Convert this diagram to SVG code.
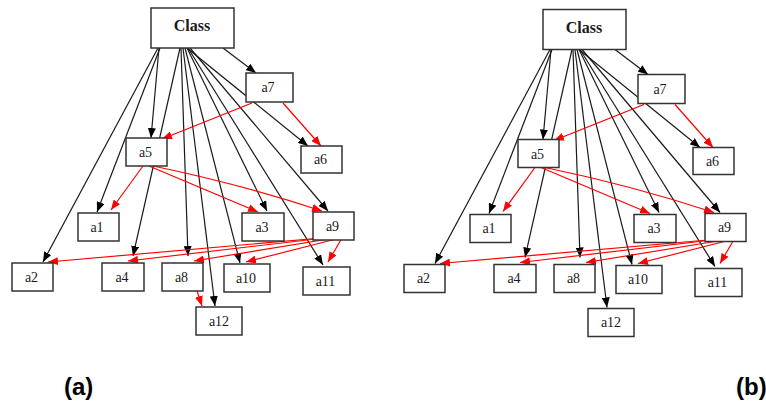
<svg xmlns="http://www.w3.org/2000/svg" width="766" height="404" viewBox="0 0 766 404">
<style>
.nd rect{fill:#fff;stroke:#333;stroke-width:1.5}
.nd text{font-family:"Liberation Serif","Times New Roman",serif;font-size:14px;fill:#1a1a1a;text-anchor:middle}
.nd text.cls{font-weight:bold;font-size:16px}
.k{fill:none;stroke:#1a1a1a;stroke-width:1.2;marker-end:url(#mk)}
.r{fill:none;stroke:#ff0000;stroke-width:1.2;marker-end:url(#mr)}
.lab{font-family:"Liberation Sans",Arial,sans-serif;font-weight:bold;font-size:24px;fill:#000}
</style>
<defs>
<marker id="mk" markerUnits="userSpaceOnUse" markerWidth="10" markerHeight="8" viewBox="0 0 10 8" refX="10" refY="4" orient="auto"><path d="M0,0 L10,4 L0,8 z" fill="#000"/></marker>
<marker id="mr" markerUnits="userSpaceOnUse" markerWidth="10" markerHeight="8" viewBox="0 0 10 8" refX="10" refY="4" orient="auto"><path d="M0,0 L10,4 L0,8 z" fill="#ff0000"/></marker>
</defs>
<rect width="766" height="404" fill="#fff"/>

<g id="panel-a">
<g id="a-edges">
<path class="k" d="M158,48 L43,262"/>
<path class="k" d="M160,48 L97,212"/>
<path class="k" d="M159,48 L151,138"/>
<path class="k" d="M180,48 L133,256"/>
<path class="k" d="M181,48 L188,256"/>
<path class="k" d="M183,48 L215,306"/>
<path class="k" d="M185,48 L240,263"/>
<path class="k" d="M187,48 L267,211"/>
<path class="k" d="M188,48 L323,265"/>
<path class="k" d="M190,48 L328,211"/>
<path class="k" d="M187,48 L308,146"/>
<path class="k" d="M223,48 L256,73"/>
<path class="r" d="M252,103 L162,139"/>
<path class="r" d="M283,103 L321,146"/>
<path class="r" d="M143,166 L111,210"/>
<path class="r" d="M149,166 L258,212"/>
<path class="r" d="M153,166 Q240,184 322,211"/>
<path class="r" d="M333,237 L48,262"/>
<path class="r" d="M333,237 L128,261"/>
<path class="r" d="M335,238 L194,261"/>
<path class="r" d="M340,238 L246,262"/>
<path class="r" d="M342,238 L328,262"/>
<path class="r" d="M197,291 L202,306"/>
</g>
<g id="a-Class" class="nd"><rect x="151" y="8" width="83" height="40"/><text class="cls" x="192" y="31">Class</text></g>
<g id="a-a7" class="nd"><rect x="246" y="73" width="47" height="29"/><text x="268" y="92">a7</text></g>
<g id="a-a5" class="nd"><rect x="126" y="138" width="41" height="28"/><text x="145.5" y="157">a5</text></g>
<g id="a-a6" class="nd"><rect x="301" y="146" width="41" height="27"/><text x="320.5" y="164">a6</text></g>
<g id="a-a1" class="nd"><rect x="78" y="213" width="41" height="28"/><text x="97" y="231.5">a1</text></g>
<g id="a-a3" class="nd"><rect x="242" y="213" width="42" height="28"/><text x="262" y="231.5">a3</text></g>
<g id="a-a9" class="nd"><rect x="313" y="212" width="41" height="28"/><text x="332.5" y="230.5">a9</text></g>
<g id="a-a2" class="nd"><rect x="12" y="263" width="41" height="28"/><text x="31.5" y="281.5">a2</text></g>
<g id="a-a4" class="nd"><rect x="102" y="263" width="42" height="28"/><text x="122" y="281.5">a4</text></g>
<g id="a-a8" class="nd"><rect x="162" y="263" width="41" height="28"/><text x="181.5" y="281.5">a8</text></g>
<g id="a-a10" class="nd"><rect x="224" y="264" width="46" height="28"/><text x="246" y="282.5">a10</text></g>
<g id="a-a11" class="nd"><rect x="303" y="267" width="47" height="28"/><text x="325.5" y="285.5">a11</text></g>
<g id="a-a12" class="nd"><rect x="196" y="307" width="46" height="28"/><text x="219" y="325.5">a12</text></g>
<text class="lab" x="64" y="395">(a)</text>
</g>

<g id="panel-b" transform="translate(392,1.5)">
<g id="b-edges">
<path class="k" d="M158,48 L43,262"/>
<path class="k" d="M160,48 L97,212"/>
<path class="k" d="M159,48 L151,138"/>
<path class="k" d="M180,48 L133,256"/>
<path class="k" d="M181,48 L188,256"/>
<path class="k" d="M183,48 L215,306"/>
<path class="k" d="M185,48 L240,263"/>
<path class="k" d="M187,48 L267,211"/>
<path class="k" d="M188,48 L323,265"/>
<path class="k" d="M190,48 L328,211"/>
<path class="k" d="M187,48 L308,146"/>
<path class="k" d="M223,48 L256,73"/>
<path class="r" d="M252,103 L162,139"/>
<path class="r" d="M283,103 L321,146"/>
<path class="r" d="M143,166 L111,210"/>
<path class="r" d="M149,166 L258,212"/>
<path class="r" d="M153,166 Q240,184 322,211"/>
<path class="r" d="M333,237 L48,262"/>
<path class="r" d="M333,237 L128,261"/>
<path class="r" d="M335,238 L194,261"/>
<path class="r" d="M340,238 L246,262"/>
<path class="r" d="M342,238 L328,262"/>
</g>
<g id="b-Class" class="nd"><rect x="151" y="8" width="83" height="40"/><text class="cls" x="192" y="31">Class</text></g>
<g id="b-a7" class="nd"><rect x="246" y="73" width="47" height="29"/><text x="268" y="92">a7</text></g>
<g id="b-a5" class="nd"><rect x="126" y="138" width="41" height="28"/><text x="145.5" y="157">a5</text></g>
<g id="b-a6" class="nd"><rect x="301" y="146" width="41" height="27"/><text x="320.5" y="164">a6</text></g>
<g id="b-a1" class="nd"><rect x="78" y="213" width="41" height="28"/><text x="97" y="231.5">a1</text></g>
<g id="b-a3" class="nd"><rect x="242" y="213" width="42" height="28"/><text x="262" y="231.5">a3</text></g>
<g id="b-a9" class="nd"><rect x="313" y="212" width="41" height="28"/><text x="332.5" y="230.5">a9</text></g>
<g id="b-a2" class="nd"><rect x="12" y="263" width="41" height="28"/><text x="31.5" y="281.5">a2</text></g>
<g id="b-a4" class="nd"><rect x="102" y="263" width="42" height="28"/><text x="122" y="281.5">a4</text></g>
<g id="b-a8" class="nd"><rect x="162" y="263" width="41" height="28"/><text x="181.5" y="281.5">a8</text></g>
<g id="b-a10" class="nd"><rect x="224" y="264" width="46" height="28"/><text x="246" y="282.5">a10</text></g>
<g id="b-a11" class="nd"><rect x="303" y="267" width="47" height="28"/><text x="325.5" y="285.5">a11</text></g>
<g id="b-a12" class="nd"><rect x="196" y="307" width="46" height="28"/><text x="219" y="325.5">a12</text></g>
<text class="lab" x="344" y="393.5">(b)</text>
</g>
</svg>
